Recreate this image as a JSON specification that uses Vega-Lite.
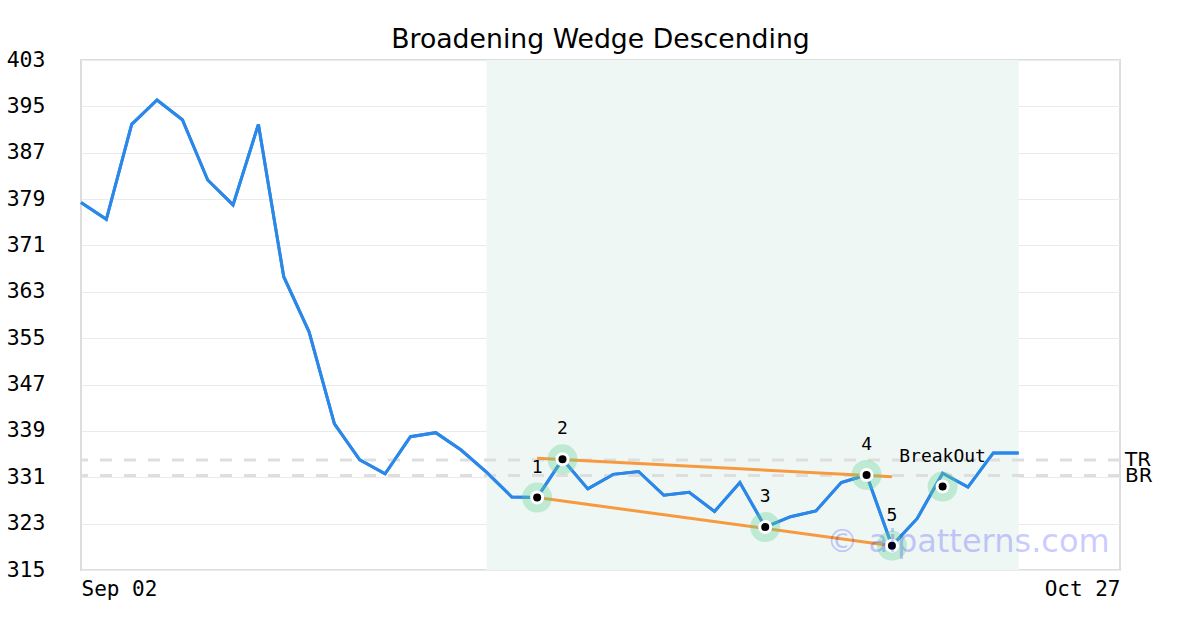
{
  "$schema": "https://vega.github.io/schema/vega-lite/v6.json",
  "width": 1039,
  "height": 510,
  "autosize": {"type": "none"},
  "padding": {"left": 81, "top": 60, "right": 80, "bottom": 60},
  "background": "white",
  "config": {
    "view": {"stroke": "#dddddd", "strokeWidth": 2},
    "font": "DejaVu Sans"
  },
  "title": {
    "text": "Broadening Wedge Descending",
    "font": "DejaVu Sans",
    "fontSize": 26.7,
    "fontWeight": "normal",
    "color": "#000000",
    "anchor": "middle",
    "offset": -5
  },
  "datasets": {
    "price": [
      {"i": 0, "close": 378.4}, {"i": 1, "close": 375.5}, {"i": 2, "close": 391.9},
      {"i": 3, "close": 396.1}, {"i": 4, "close": 392.7}, {"i": 5, "close": 382.3},
      {"i": 6, "close": 378.0}, {"i": 7, "close": 391.9}, {"i": 8, "close": 365.6},
      {"i": 9, "close": 356.1}, {"i": 10, "close": 340.2}, {"i": 11, "close": 334.0},
      {"i": 12, "close": 331.6}, {"i": 13, "close": 338.0}, {"i": 14, "close": 338.7},
      {"i": 15, "close": 335.7}, {"i": 16, "close": 331.9}, {"i": 17, "close": 327.6},
      {"i": 18, "close": 327.5}, {"i": 19, "close": 334.1}, {"i": 20, "close": 329.0},
      {"i": 21, "close": 331.5}, {"i": 22, "close": 332.0}, {"i": 23, "close": 327.9},
      {"i": 24, "close": 328.4}, {"i": 25, "close": 325.1}, {"i": 26, "close": 330.1},
      {"i": 27, "close": 322.4}, {"i": 28, "close": 324.2}, {"i": 29, "close": 325.2},
      {"i": 30, "close": 330.1}, {"i": 31, "close": 331.4}, {"i": 32, "close": 319.2},
      {"i": 33, "close": 323.9}, {"i": 34, "close": 331.7}, {"i": 35, "close": 329.3},
      {"i": 36, "close": 335.2}, {"i": 37, "close": 335.2}
    ],
    "zone": [{"start": 16, "end": 37}],
    "refs": [{"name": "TR", "value": 334.0}, {"name": "BR", "value": 331.3}],
    "trend": [
      {"line": "top", "i": 18, "v": 334.3}, {"line": "top", "i": 32, "v": 331.1},
      {"line": "bottom", "i": 18, "v": 327.5}, {"line": "bottom", "i": 32, "v": 319.2}
    ],
    "pts": [
      {"label": "1", "i": 18, "v": 327.5},
      {"label": "2", "i": 19, "v": 334.1},
      {"label": "3", "i": 27, "v": 322.4},
      {"label": "4", "i": 31, "v": 331.4},
      {"label": "5", "i": 32, "v": 319.2},
      {"label": "BreakOut", "i": 34, "v": 329.4}
    ],
    "wm": [{"text": "© aipatterns.com", "i": 35, "v": 319.8}]
  },
  "layer": [
    {
      "data": {"name": "zone"},
      "mark": {"type": "rect", "color": "#eff7f4"},
      "encoding": {
        "x": {"field": "start", "type": "quantitative",
          "scale": {"domain": [0, 41], "nice": false, "zero": false},
          "axis": {
            "values": [0, 41],
            "labelExpr": "datum.value == 0 ? 'Sep 02' : 'Oct 27'",
            "labelFlush": true,
            "labelFont": "DejaVu Sans Mono",
            "labelFontSize": 21,
            "labelColor": "#000000",
            "labelPadding": 8,
            "grid": false, "domain": false, "ticks": false, "title": null
          }
        },
        "x2": {"field": "end"}
      }
    },
    {
      "data": {"name": "price"},
      "mark": {"type": "line", "color": "#2b88e8", "strokeWidth": 3},
      "encoding": {
        "x": {"field": "i", "type": "quantitative"},
        "y": {"field": "close", "type": "quantitative",
          "scale": {"domain": [315, 403], "nice": false, "zero": false},
          "axis": {
            "values": [315, 323, 331, 339, 347, 355, 363, 371, 379, 387, 395, 403],
            "labelFont": "DejaVu Sans Mono",
            "labelFontSize": 21.5,
            "labelColor": "#000000",
            "labelPadding": 36,
            "grid": true, "gridColor": "#ebebeb", "gridWidth": 1,
            "domain": false, "ticks": false, "title": null
          }
        }
      }
    },
    {
      "data": {"name": "refs"},
      "mark": {"type": "rule", "color": "#dedede", "strokeWidth": 3, "strokeDash": [12, 12]},
      "encoding": {"y": {"field": "value", "type": "quantitative"}}
    },
    {
      "data": {"name": "refs"},
      "mark": {"type": "text", "align": "left", "baseline": "middle", "dx": 5, "fontSize": 20, "font": "DejaVu Sans", "color": "#000000", "clip": false},
      "encoding": {
        "x": {"datum": 41, "type": "quantitative"},
        "y": {"field": "value", "type": "quantitative"},
        "text": {"field": "name"}
      }
    },
    {
      "data": {"name": "price"},
      "mark": {"type": "line", "color": "#2b88e8", "strokeWidth": 3},
      "encoding": {
        "x": {"field": "i", "type": "quantitative"},
        "y": {"field": "close", "type": "quantitative"}
      }
    },
    {
      "data": {"name": "trend"},
      "mark": {"type": "line", "color": "#f79a3e", "strokeWidth": 3},
      "encoding": {
        "x": {"field": "i", "type": "quantitative"},
        "y": {"field": "v", "type": "quantitative"},
        "detail": {"field": "line"}
      }
    },
    {
      "data": {"name": "pts"},
      "mark": {"type": "circle", "color": "#63cf93", "opacity": 0.35, "size": 900},
      "encoding": {
        "x": {"field": "i", "type": "quantitative"},
        "y": {"field": "v", "type": "quantitative"}
      }
    },
    {
      "data": {"name": "pts"},
      "mark": {"type": "circle", "color": "#ffffff", "opacity": 1, "size": 196},
      "encoding": {
        "x": {"field": "i", "type": "quantitative"},
        "y": {"field": "v", "type": "quantitative"}
      }
    },
    {
      "data": {"name": "pts"},
      "mark": {"type": "circle", "color": "#000000", "opacity": 1, "size": 64},
      "encoding": {
        "x": {"field": "i", "type": "quantitative"},
        "y": {"field": "v", "type": "quantitative"}
      }
    },
    {
      "data": {"name": "pts"},
      "mark": {"type": "text", "font": "DejaVu Sans Mono", "fontSize": 18, "color": "#000000", "dy": -30, "baseline": "middle", "align": "center"},
      "encoding": {
        "x": {"field": "i", "type": "quantitative"},
        "y": {"field": "v", "type": "quantitative"},
        "text": {"field": "label"}
      }
    },
    {
      "data": {"name": "wm"},
      "mark": {"type": "text", "font": "DejaVu Sans", "fontSize": 32, "color": "#0000ff", "opacity": 0.2, "baseline": "middle", "align": "center"},
      "encoding": {
        "x": {"field": "i", "type": "quantitative"},
        "y": {"field": "v", "type": "quantitative"},
        "text": {"field": "text"}
      }
    }
  ]
}
